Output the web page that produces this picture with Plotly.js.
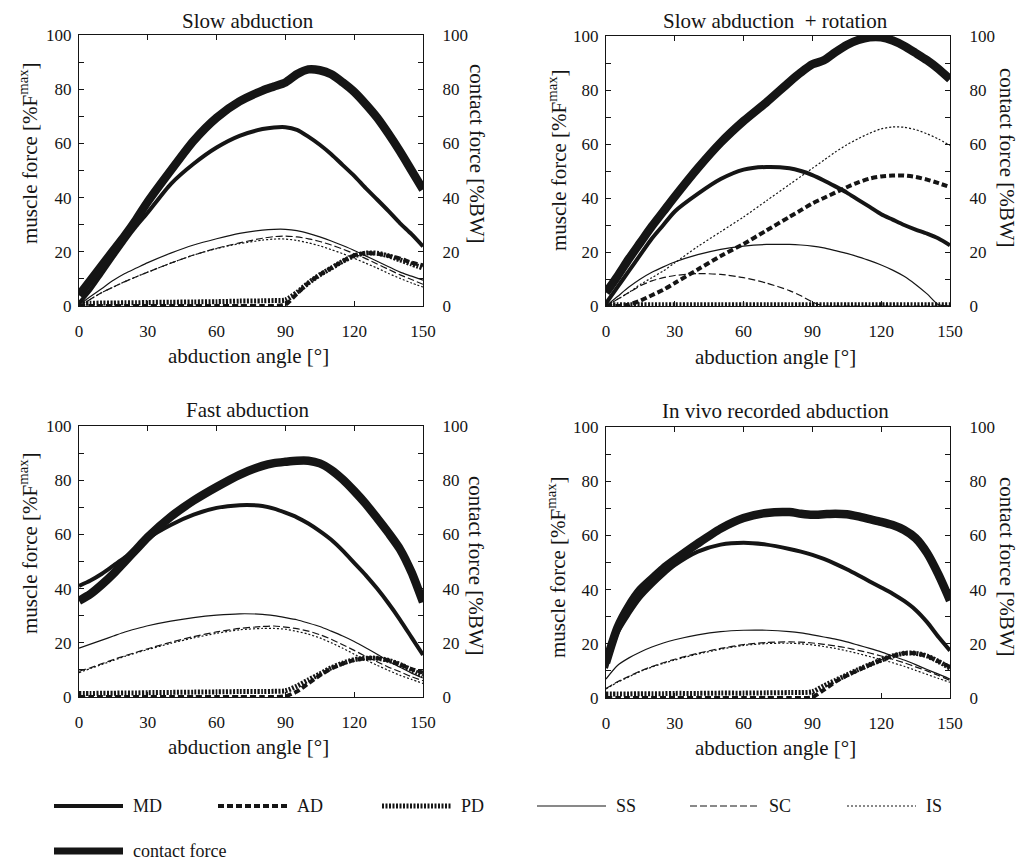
<!DOCTYPE html>
<html><head><meta charset="utf-8">
<script src="https://cdn.plot.ly/plotly-3.0.1.min.js"></script>
<style>html,body{margin:0;padding:0;background:#fff}#chart{width:1019px;height:862px}</style>
</head><body><div id="chart"></div>
<script>
// ---------------- DATA ----------------
const angle = [0,5,10,15,20,25,30,40,50,60,70,80,85,90,95,100,105,110,115,120,125,130,135,140,145,150];
const panelTitles = ['Slow abduction', 'Slow abduction \u00a0+ rotation', 'Fast abduction', 'In vivo recorded abduction'];
const seriesNames = ['MD','AD','PD','SS','SC','IS','contact force'];
const xTickVals = [0,30,60,90,120,150];
const yTickVals = [0,20,40,60,80,100];

// Slow abduction
const slowMD = [1,6,12,18,24,29.5,34.5,45,52.5,58.5,62.8,65.3,65.9,66,65,62.5,59.5,56,52,48,43.5,39.3,35,30.5,26.5,22];
const slowAD = [0,0,0,0,0,0,0,0,0,0,0,0,0,0.5,4.5,8.5,11.5,14,16.5,18.7,19.5,19.3,18.5,17.5,16,15];
const slowPD = [1,1,1.1,1.1,1.2,1.2,1.3,1.4,1.5,1.6,1.8,1.9,2,2.2,5,8.5,11.5,14,16.5,18.5,19.5,19.5,18.5,17,15.5,14];
const slowSS = [0.5,3.5,6.5,9.5,12,14,16,19.5,22.5,24.8,26.8,28,28.3,28.3,27.8,26.8,25.5,24,22.3,20.5,18.5,16.5,14.5,12.5,11,9.5];
const slowSC = [0,2.5,5,7,9,10.8,12.5,15.8,18.8,21.3,23.3,25,25.6,25.8,25.5,24.8,23.8,22.5,21,19.3,17.5,15.5,13.5,11.5,9.8,8];
const slowIS = [0,2.5,5,7,9,10.8,12.5,15.8,18.8,21.2,23,24.3,24.7,24.7,24.2,23.3,22.2,20.8,19.3,17.6,15.8,14,12,10.2,8.5,7];
const slowCF = [4,9.5,15,20.5,26,32,38.5,50,61,69.5,75.5,79.5,81,82.5,85.5,87.3,87,85.5,82.5,79,74.5,69.5,63.5,57,50,43];

// Slow abduction + rotation
const rotMD = [1,7,13,19,25,30,35,41.5,47,50.5,51.5,51,50,48.5,46.5,44.3,42,39.3,36.7,34,32,30,28.3,26.8,25,22.5];
const rotAD = [0,0,0.5,2,4,6,8.5,13.5,18.5,23,28,33,35.5,38,40,42,44,45.8,47.2,48,48.3,48.3,47.8,46.8,45.5,44];
const rotPD = [0.5,0.5,0.5,0.5,0.5,0.5,0.5,0.5,0.5,0.5,0.5,0.5,0.5,0.5,0.5,0.5,0.5,0.5,0.5,0.5,0.5,0.5,0.5,0.5,0.5,0.5];
const rotSS = [0,3.5,7,10,12.5,14.5,16.3,19,21,22.2,22.8,22.8,22.6,22.2,21.5,20.5,19.5,18.2,16.8,15.2,13.3,11,8,4.5,0.5,0];
const rotSC = [0,2.5,5,7.5,9.3,10.5,11.3,12,11.7,10.5,8.5,5.7,3.8,1.5,0,0,0,0,0,0,0,0,0,0,0,0];
const rotIS = [0,2.5,5,8,10.5,13,16,22,27.5,33,39,45,48,51,54,57,59.7,62,64,65.6,66.3,66.2,65.3,63.8,61.8,59.5];
const rotCF = [5,11,17.5,23.5,29.5,35,40.5,51,60.5,68.5,75.5,83,86.5,89.5,91,94,96.7,98.5,99.5,99.5,98.3,96.3,93.7,91,87.8,84];

// Fast abduction
const fastMD = [41,43,45.5,48.5,51.5,55,58.5,63.5,67.3,69.8,70.8,70.5,69.5,68,66.3,64,61.2,58,54,49.5,45,40,34.5,28.5,22,15.5];
const fastAD = [0,0,0,0,0,0,0,0,0,0,0,0,0,0.3,2,5,8,10.5,12.3,13.6,14.3,14.3,13.5,12,10.3,9];
const fastPD = [1.3,1.3,1.4,1.4,1.5,1.5,1.6,1.7,1.8,1.9,2,2,2.1,2.3,4,6.3,8.5,10.8,12.5,13.8,14.3,14.3,13.5,12,10,8];
const fastSS = [18,19.5,21,22.5,24,25.2,26.3,28,29.3,30.2,30.7,30.5,30,29.3,28.5,27.3,26,24.3,22.5,20.5,18.2,15.8,13.2,11,8.8,7];
const fastSC = [9.5,10.8,12.3,13.8,15.2,16.5,17.8,20.2,22.3,24,25.3,26,26.2,25.8,25.2,24.3,23,21.3,19.3,17.2,15,13,11,9.3,7.5,6];
const fastIS = [9,10.5,12,13.5,15,16.3,17.5,19.8,21.8,23.5,24.8,25.3,25.3,25,24.2,23.2,21.8,20,18,15.8,13.7,11.7,9.8,8,6.5,5];
const fastCF = [35.5,38,41.5,45.5,50,54.5,59,66.5,72.5,77.5,82,85.3,86.3,86.8,87.2,87.2,86.2,83.8,80.3,76,71.3,66,60.5,54.5,46,35];

// In vivo recorded abduction
const vivoMD = [11,24,31,37,41.5,45.5,49,54,56.6,57.3,56.6,55,54,52.8,51.3,49.5,47.5,45.3,43,40.8,38.5,35.8,32.5,28,22.5,17.5];
const vivoAD = [0,0,0,0,0,0,0,0,0,0,0,0,0,0.3,3,6,8.3,10.3,12.2,14,15.5,16.5,16.5,15.5,13.5,11.5];
const vivoPD = [1.5,1.5,1.5,1.6,1.6,1.6,1.7,1.7,1.8,1.8,1.9,2,2,2.3,4.5,6.5,8.5,10.5,12.3,14,15.5,16.5,16.5,15.5,13.5,11];
const vivoSS = [7,12,14.8,17,18.8,20.3,21.5,23.3,24.5,25,25,24.5,24,23.3,22.5,21.7,20.7,19.5,18.3,17,15.5,14,12.3,10.5,8.8,7];
const vivoSC = [3.5,6,8,10,11.6,13,14.3,16.5,18.3,19.7,20.5,20.7,20.6,20.3,19.8,19.2,18.5,17.6,16.6,15.5,14.3,13,11.5,10,8.3,6.5];
const vivoIS = [3.3,5.8,7.8,9.8,11.4,12.8,14,16.2,18,19.4,20.1,20.2,20,19.6,19,18.3,17.4,16.4,15.3,14.2,13,11.7,10.2,8.7,7.2,5.8];
const vivoCF = [13,26,34,40,44,47.8,51,57,62.5,66.4,68.3,68.6,68,67.6,67.8,68,67.8,67,66,65,63.8,62,59,53.5,45.5,36];

// ---------------- STYLE / LAYOUT ----------------
const W = 1019, H = 862;
const FONT = '"Liberation Serif", "Times New Roman", Times, serif';
const INK = '#151515';
const styles = [
  {width:4, dash:'solid'},
  {width:4, dash:'6px,3px'},
  {width:5, dash:'2px,1.5px'},
  {width:1.2, dash:'solid'},
  {width:1.2, dash:'7px,3px'},
  {width:1.2, dash:'2px,2px'},
  {width:8.5, dash:'solid'}
];
const panelData = [
  [slowMD, slowAD, slowPD, slowSS, slowSC, slowIS, slowCF],
  [rotMD, rotAD, rotPD, rotSS, rotSC, rotIS, rotCF],
  [fastMD, fastAD, fastPD, fastSS, fastSC, fastIS, fastCF],
  [vivoMD, vivoAD, vivoPD, vivoSS, vivoSC, vivoIS, vivoCF]
];
const geo = [
  {x0:79, x1:423, y0:35, y1:306, tY:21, xtY:356, lT:[28,153], rT:[477,154]},
  {x0:606, x1:950, y0:36, y1:306, tY:21, xtY:357, lT:[557,160], rT:[1007,158]},
  {x0:79, x1:423, y0:426, y1:697, tY:410, xtY:747, lT:[28,543], rT:[476,566]},
  {x0:606, x1:950, y0:427, y1:698, tY:411, xtY:748, lT:[556,567], rT:[1007,567]}
];
const px = v => v / W, py = v => 1 - v / H;

const traces = [];
const layout = {
  width: W, height: H, margin: {l:0, r:0, t:0, b:0},
  paper_bgcolor: '#fff', plot_bgcolor: '#fff',
  showlegend: false, font: {family: FONT, color: INK, size: 17},
  annotations: [], shapes: []
};

geo.forEach((g, i) => {
  const n = i + 1;
  const xa = n === 1 ? 'x' : 'x' + n;
  const yl = 2 * i + 1, yr = 2 * i + 2;
  const ylName = yl === 1 ? 'y' : 'y' + yl;
  const yrName = 'y' + yr;
  const axCommon = {showgrid:false, zeroline:false, showline:true, linecolor:INK, linewidth:1,
    ticks:'inside', ticklen:5, tickcolor:INK, tickfont:{family:FONT, size:17, color:INK}};
  layout['xaxis' + (n === 1 ? '' : n)] = Object.assign({}, axCommon, {
    domain:[px(g.x0), px(g.x1)], anchor: ylName, range:[0,150], tickvals:xTickVals,
    mirror:'ticks', ticklabelstandoff: 10
  });
  layout['yaxis' + (yl === 1 ? '' : yl)] = Object.assign({}, axCommon, {
    domain:[py(g.y1), py(g.y0)], anchor: xa, range:[0,100], tickvals:yTickVals,
    mirror:true, ticklabelstandoff: 3,
    minor:{dtick:10, tick0:0, ticks:'inside', ticklen:5, tickcolor:INK}
  });
  layout['yaxis' + yr] = Object.assign({}, axCommon, {
    domain:[py(g.y1), py(g.y0)], anchor: xa, overlaying: ylName, side:'right',
    range:[0,100], tickvals:yTickVals, ticklabelstandoff: 15,
    minor:{dtick:10, tick0:0, ticks:'inside', ticklen:5, tickcolor:INK}
  });
  panelData[i].forEach((vals, k) => {
    traces.push({
      type:'scatter', mode:'lines', x: angle, y: vals, name: seriesNames[k],
      xaxis: xa, yaxis: k === 6 ? yrName : ylName, cliponaxis: true,
      line: {color: INK, width: styles[k].width, dash: styles[k].dash, shape:'spline', smoothing:0.7}
    });
  });
  const cx = (g.x0 + g.x1) / 2 - 3;
  const A = layout.annotations;
  A.push({xref:'paper', yref:'paper', x:px(cx), y:py(g.tY), text:panelTitles[i], showarrow:false,
    xanchor:'center', yanchor:'middle', font:{family:FONT, size:21, color:INK}});
  A.push({xref:'paper', yref:'paper', x:px(cx), y:py(g.xtY), text:'abduction angle [°]', showarrow:false,
    xanchor:'center', yanchor:'middle', font:{family:FONT, size:21, color:INK}});
  A.push({xref:'paper', yref:'paper', x:px(g.lT[0]), y:py(g.lT[1]), text:'muscle force [%F<sup>max</sup>]', showarrow:false,
    textangle:-90, xanchor:'center', yanchor:'middle', font:{family:FONT, size:21, color:INK}});
  A.push({xref:'paper', yref:'paper', x:px(g.rT[0]), y:py(g.rT[1]), text:'contact force [%BW]', showarrow:false,
    textangle:90, xanchor:'center', yanchor:'middle', font:{family:FONT, size:21, color:INK}});
});

// legend (drawn as sample lines + labels)
const legendPos = [[54,806],[218,806],[382,806],[537,806],[690,806],[847,806],[54,851]];
seriesNames.forEach((name, k) => {
  const [lx, ly] = legendPos[k];
  const len = 69;
  layout.shapes.push({type:'line', xref:'paper', yref:'paper', x0:px(lx), x1:px(lx+len), y0:py(ly), y1:py(ly),
    line:{color:INK, width: k === 6 ? 7 : styles[k].width, dash: styles[k].dash}});
  layout.annotations.push({xref:'paper', yref:'paper', x:px(lx+len+8), y:py(ly), text:name, showarrow:false,
    xanchor:'left', yanchor:'middle', font:{family:FONT, size:18, color:INK}});
});

Plotly.newPlot('chart', traces, layout, {staticPlot:true, displayModeBar:false});
</script></body></html>
